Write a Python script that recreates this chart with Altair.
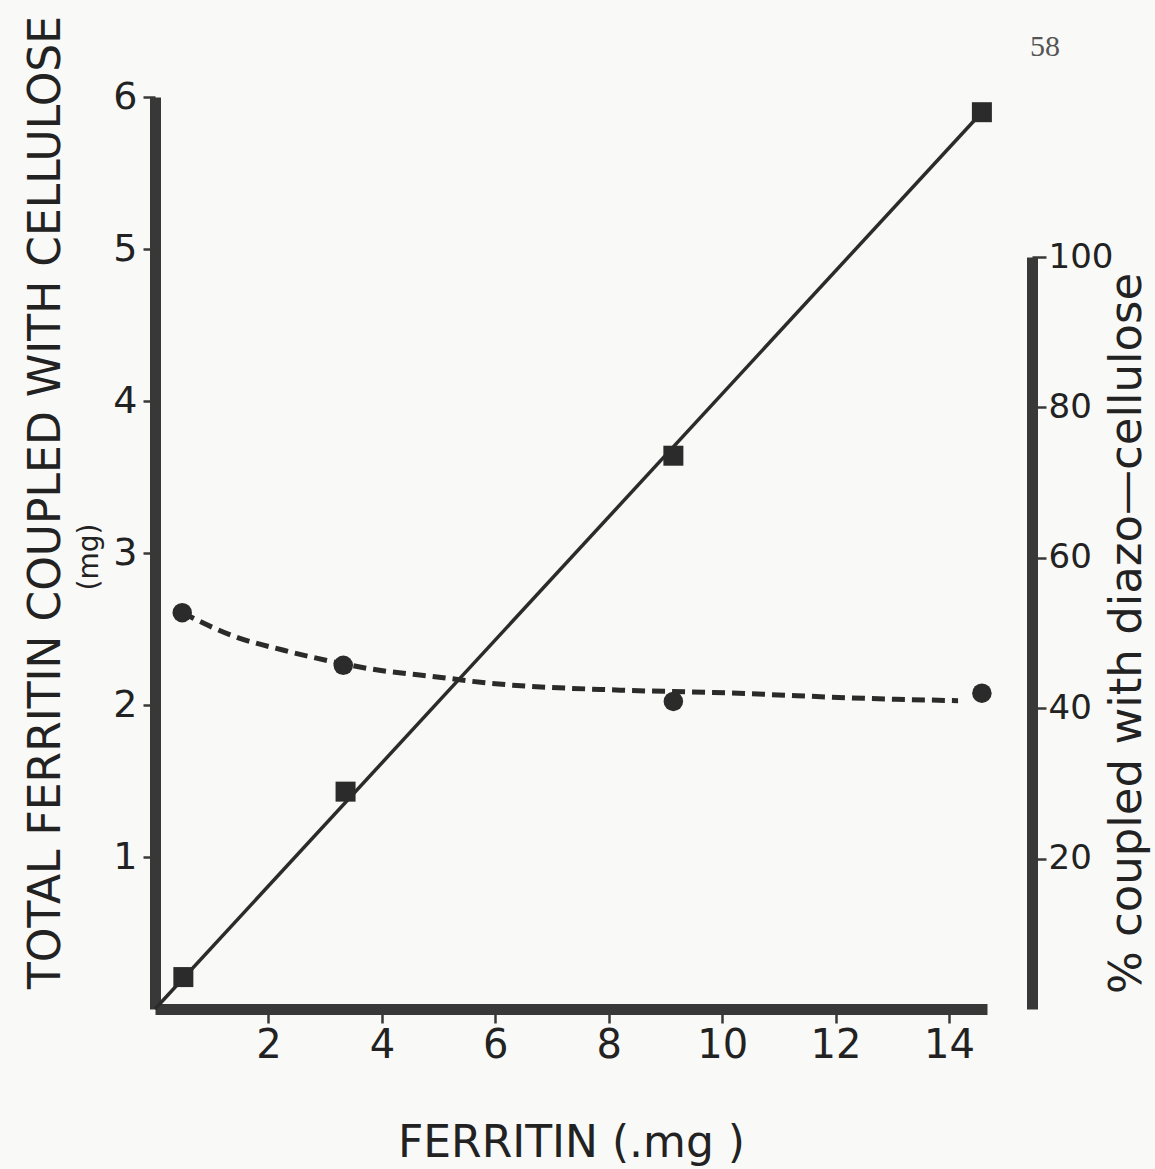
import altair as alt
import pandas as pd

# Ferritin offered (mg) vs. total ferritin coupled (mg) -- squares, fitted straight line
ferritin_sq = [0.5, 3.36, 9.14, 14.58]
coupled_mg = [0.21, 1.43, 3.64, 5.90]

fit_x = [0.0, 14.58]
fit_y = [0.0, 5.90]

# Percentage coupled with diazo-cellulose -- circles and smooth dashed curve
ferritin_pct = [0.48, 3.32, 9.14, 14.58]
coupled_pct = [52.7, 45.7, 40.9, 42.0]

curve_x = [0.48, 1.38, 2.27, 3.32, 3.74, 5.15, 5.56, 8.2, 9.84, 12.55, 14.16]
curve_y = [52.7, 49.6, 47.7, 45.9, 45.3, 44.0, 43.6, 42.4, 42.1, 41.3, 41.0]

x_ticks = [2, 4, 6, 8, 10, 12, 14]
left_ticks = [1, 2, 3, 4, 5, 6]
right_ticks = [20, 40, 60, 80, 100]

INK = "#2b2b2b"
AXIS_INK = "#383838"
TEXT = "#222"
FONT = "DejaVu Sans"
W, H = 832, 912

fit_df = pd.DataFrame({"ferritin": fit_x, "mg": fit_y})
sq_df = pd.DataFrame({"ferritin": ferritin_sq, "mg": coupled_mg})
curve_df = pd.DataFrame({"ferritin": curve_x, "pct": curve_y})
pct_df = pd.DataFrame({"ferritin": ferritin_pct, "pct": coupled_pct})

x_enc = alt.X(
    "ferritin:Q",
    scale=alt.Scale(domain=[0, 14.67], nice=False, zero=False),
    axis=alt.Axis(
        values=x_ticks,
        title="FERRITIN  (.mg )",
        titleFontSize=44,
        titleFontWeight="normal",
        titleColor=TEXT,
        titleFont=FONT,
        titlePadding=56,
        labelFontSize=40,
        labelFont=FONT,
        labelColor=TEXT,
        labelPadding=2,
        domainWidth=11,
        domainColor=AXIS_INK,
        tickWidth=2.5,
        tickColor=AXIS_INK,
        tickSize=14,
        grid=False,
    ),
)

y_left = alt.Y(
    "mg:Q",
    scale=alt.Scale(domain=[0, 6], nice=False),
    axis=alt.Axis(
        values=left_ticks,
        title="TOTAL  FERRITIN COUPLED WITH CELLULOSE",
        titleFontSize=44,
        titleFontWeight="normal",
        titleFont=FONT,
        titleColor=TEXT,
        titleAngle=270,
        titleBaseline="alphabetic",
        titleX=-96,
        titleY=405,
        labelFontSize=38,
        labelFont=FONT,
        labelColor=TEXT,
        labelPadding=6,
        domainWidth=11,
        domainColor=AXIS_INK,
        tickWidth=2.5,
        tickColor=AXIS_INK,
        tickSize=12,
        grid=False,
    ),
)

y_right = alt.Y(
    "pct:Q",
    scale=alt.Scale(domain=[0, 100], range=[H, 160], nice=False),
    axis=alt.Axis(
        orient="right",
        offset=45,
        values=right_ticks,
        title="% coupled with diazo—cellulose",
        titleFontSize=45,
        titleFontWeight="normal",
        titleFont=FONT,
        titleColor=TEXT,
        titleAngle=270,
        titleBaseline="alphabetic",
        titleX=108,
        titleY=536,
        labelFontSize=34,
        labelFont=FONT,
        labelColor=TEXT,
        labelPadding=2,
        domainWidth=11,
        domainColor=AXIS_INK,
        tickWidth=2.5,
        tickColor=AXIS_INK,
        tickSize=14,
        grid=False,
    ),
)

fit_line = alt.Chart(fit_df).mark_line(color=INK, strokeWidth=3.5).encode(x=x_enc, y=y_left)
squares = alt.Chart(sq_df).mark_point(
    shape="square", filled=True, size=400, color=INK, opacity=1
).encode(x=x_enc, y=y_left)

# "(mg)" second line of the left axis title
unit_label = alt.Chart(pd.DataFrame({"t": ["(mg)"]})).mark_text(
    angle=270, fontSize=28, font=FONT, color=TEXT, baseline="alphabetic", align="center"
).encode(text="t:N", x=alt.value(-57), y=alt.value(460))

# page number in the top corner
page_no = alt.Chart(pd.DataFrame({"t": ["58"]})).mark_text(
    fontSize=30, font="Liberation Serif", color="#555", align="left", baseline="middle"
).encode(text="t:N", x=alt.value(875), y=alt.value(-50))

left = alt.layer(fit_line, squares, unit_label, page_no)

curve = alt.Chart(curve_df).mark_line(
    color=INK, strokeWidth=5, strokeDash=[13, 7], interpolate="monotone"
).encode(x=x_enc, y=y_right)
circles = alt.Chart(pct_df).mark_point(
    shape="circle", filled=True, size=380, color=INK, opacity=1
).encode(x=x_enc, y=y_right)

right = alt.layer(curve, circles)

chart = (
    alt.layer(left, right)
    .resolve_scale(y="independent")
    .properties(
        width=W,
        height=H,
        background="#f9f9f7",
        padding={"left": 155, "top": 97, "right": 168, "bottom": 160},
        autosize=alt.AutoSizeParams(type="none"),
    )
    .configure_view(stroke=None)
)

chart.save("out.html", embed_options={"renderer": "svg", "actions": False})
